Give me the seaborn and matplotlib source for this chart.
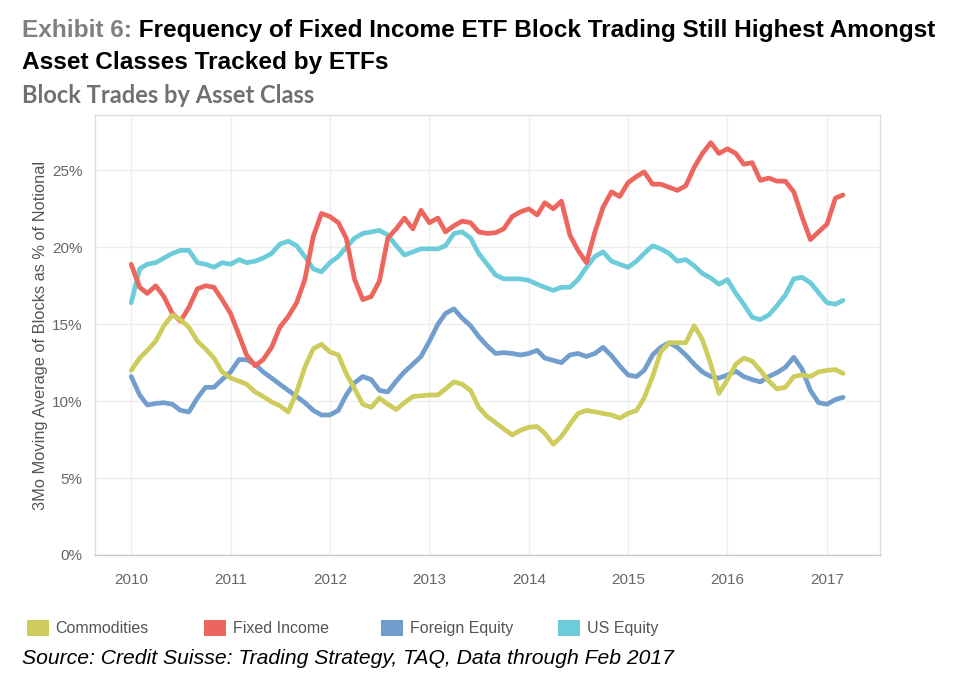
import pandas as pd
import matplotlib
matplotlib.use("Agg")
import matplotlib.pyplot as plt
import matplotlib.dates as mdates
from matplotlib.patches import Patch
from matplotlib.ticker import FuncFormatter
import seaborn as sns

# ====== Data: 3Mo moving average of block trades, % of notional (monthly reads) ======
months = pd.date_range("2010-01-01", "2017-03-01", freq="MS")

commodities = [
    12.0, 12.8, 13.3, 13.9, 14.9, 15.6, 15.3, 14.8, 13.9, 13.4, 12.8, 11.9,
    11.5, 11.3, 11.1, 10.6, 10.3, 9.95, 9.7, 9.3, 10.6, 12.2, 13.4, 13.7,
    13.2, 13.0, 11.8, 10.8, 9.8, 9.6, 10.2, 9.8, 9.45, 9.9, 10.3, 10.35,
    10.4, 10.4, 10.8, 11.25, 11.1, 10.7, 9.6, 9.0, 8.6, 8.2, 7.8, 8.1,
    8.3, 8.35, 7.9, 7.2, 7.7, 8.5, 9.2, 9.4, 9.3, 9.2, 9.1, 8.9,
    9.2, 9.4, 10.2, 11.6, 13.2, 13.8, 13.8, 13.8, 14.9, 14.0, 12.4, 10.5,
    11.4, 12.4, 12.8, 12.6, 12.0, 11.3, 10.8, 10.9, 11.6, 11.7, 11.6, 11.9, 12.0, 12.05, 11.8,
]
fixed_income = [
    18.9, 17.4, 17.0, 17.5, 16.8, 15.7, 15.2, 16.1, 17.3, 17.5, 17.4, 16.6,
    15.7, 14.3, 13.0, 12.3, 12.7, 13.5, 14.8, 15.5, 16.4, 17.9, 20.7, 22.2,
    22.0, 21.6, 20.6, 17.9, 16.6, 16.8, 17.8, 20.6, 21.2, 21.9, 21.2, 22.4,
    21.6, 21.9, 21.0, 21.4, 21.7, 21.6, 21.0, 20.9, 20.95, 21.2, 22.0, 22.3,
    22.5, 22.1, 22.9, 22.5, 23.0, 20.8, 19.8, 19.0, 21.0, 22.6, 23.6, 23.3,
    24.2, 24.6, 24.9, 24.1, 24.1, 23.9, 23.7, 24.0, 25.2, 26.1, 26.8, 26.1,
    26.4, 26.1, 25.4, 25.5, 24.35, 24.5, 24.3, 24.3, 23.6, 22.0, 20.5, 21.0, 21.5, 23.2, 23.4,
]
foreign_equity = [
    11.6, 10.4, 9.75, 9.85, 9.9, 9.8, 9.4, 9.3, 10.2, 10.9, 10.9, 11.4,
    11.9, 12.7, 12.7, 12.4, 11.9, 11.5, 11.1, 10.7, 10.3, 9.9, 9.4, 9.1,
    9.1, 9.4, 10.4, 11.2, 11.6, 11.4, 10.7, 10.6, 11.3, 11.9, 12.4, 12.9,
    13.9, 15.0, 15.7, 16.0, 15.4, 14.9, 14.2, 13.6, 13.1, 13.15, 13.1, 13.0,
    13.1, 13.3, 12.8, 12.65, 12.5, 13.0, 13.1, 12.9, 13.1, 13.5, 12.95, 12.3,
    11.7, 11.6, 12.0, 13.0, 13.5, 13.8, 13.5, 13.0, 12.4, 11.9, 11.6, 11.5,
    11.7, 11.95, 11.6, 11.4, 11.25, 11.6, 11.85, 12.2, 12.85, 12.1, 10.7, 9.9, 9.8, 10.1, 10.25,
]
us_equity = [
    16.4, 18.6, 18.9, 19.0, 19.3, 19.6, 19.8, 19.8, 19.0, 18.9, 18.7, 19.0,
    18.9, 19.2, 19.0, 19.1, 19.3, 19.6, 20.2, 20.4, 20.1, 19.4, 18.6, 18.4,
    19.0, 19.4, 20.0, 20.6, 20.9, 21.0, 21.1, 20.8, 20.1, 19.5, 19.7, 19.9,
    19.9, 19.9, 20.1, 20.9, 21.0, 20.6, 19.6, 18.9, 18.2, 17.95, 17.95, 17.95,
    17.85, 17.6, 17.4, 17.2, 17.4, 17.4, 17.9, 18.7, 19.4, 19.7, 19.1, 18.9,
    18.7, 19.1, 19.6, 20.1, 19.9, 19.6, 19.1, 19.2, 18.8, 18.3, 18.0, 17.6,
    17.9, 17.0, 16.3, 15.45, 15.3, 15.6, 16.2, 16.9, 17.95, 18.05, 17.7, 17.05, 16.4, 16.3, 16.55,
]

series_names = ["Commodities", "Fixed Income", "Foreign Equity", "US Equity"]
series_colors = ["#CDCC5D", "#ED665D", "#729ECE", "#6DCCDA"]
y_ticks = [0, 5, 10, 15, 20, 25]

df = pd.concat([
    pd.DataFrame({"Date": months, "Value": vals, "Asset Class": name})
    for name, vals in zip(series_names, [commodities, fixed_income, foreign_equity, us_equity])
])

# ====== Style ======
sns.set_style("white")
plt.rcParams["font.family"] = ["Liberation Sans", "DejaVu Sans"]
grey = "#666666"

fig = plt.figure(figsize=(9.6, 6.94), dpi=100)
ax = fig.add_axes([0.099, 0.2003, 0.818, 0.634])

sns.lineplot(
    data=df, x="Date", y="Value", hue="Asset Class",
    hue_order=series_names[::-1], palette=dict(zip(series_names, series_colors)),
    linewidth=3.4, legend=False, ax=ax, solid_capstyle="round", solid_joinstyle="round",
)

ax.set_xlim(pd.Timestamp("2009-08-21"), pd.Timestamp("2017-07-16"))
ax.set_ylim(0, 28.6)
ax.set_yticks(y_ticks)
ax.yaxis.set_major_formatter(FuncFormatter(lambda v, _: f"{v:.0f}%"))
ax.xaxis.set_major_locator(mdates.YearLocator())
ax.xaxis.set_major_formatter(mdates.DateFormatter("%Y"))
ax.xaxis.set_minor_locator(mdates.MonthLocator(bymonth=[4, 7, 10]))

ax.grid(True, which="major", color="#eeeeee", linewidth=1)
ax.set_axisbelow(True)
for side, spine in ax.spines.items():
    spine.set_color("#dddddd")
    spine.set_linewidth(1)
ax.spines["bottom"].set_color("#c8c8c8")

ax.tick_params(axis="x", which="major", length=5, width=1, color="#bbbbbb",
               labelsize=11, labelcolor=grey, pad=8)
ax.tick_params(axis="x", which="minor", length=2, width=1, color="#cccccc")
ax.tick_params(axis="y", length=0, labelsize=11, labelcolor=grey, pad=9)

ax.set_xlabel("")
ax.set_ylabel("3Mo Moving Average of Blocks as % of Notional", fontsize=11.8, color="#555555", labelpad=3)

# ====== Titles ======
t1 = fig.text(22 / 960, 1 - 37 / 694, "Exhibit 6:", color="#808080", fontsize=17.6,
              fontweight="bold", va="baseline")
ax.annotate(" Frequency of Fixed Income ETF Block Trading Still Highest Amongst",
            xy=(1, 0), xycoords=t1, va="bottom", ha="left", color="black",
            fontsize=17.6, fontweight="bold", annotation_clip=False)
fig.text(22 / 960, 1 - 69 / 694, "Asset Classes Tracked by ETFs", color="black", fontsize=17.6,
         fontweight="bold", va="baseline")
fig.text(22 / 960, 1 - 103 / 694, "Block Trades by Asset Class", color="#707070", fontsize=17,
         fontweight="bold", family=["Lato", "DejaVu Sans"], va="baseline")

# ====== Legend ======
for i, (name, color) in enumerate(zip(series_names, series_colors)):
    fig.legend(handles=[Patch(facecolor=color, edgecolor="none")], labels=[name],
               loc="center left", bbox_to_anchor=((27 + 177 * i) / 960, 1 - 628 / 694),
               frameon=False, fontsize=11.5, labelcolor="#555555", handlelength=1.35,
               handleheight=1.25, handletextpad=0.45, borderpad=0, borderaxespad=0)

fig.text(22 / 960, 1 - 659 / 694, "Source: Credit Suisse: Trading Strategy, TAQ, Data through Feb 2017",
         fontsize=15.2, style="italic", color="black", va="center")

fig.savefig("out.png", dpi=100)
